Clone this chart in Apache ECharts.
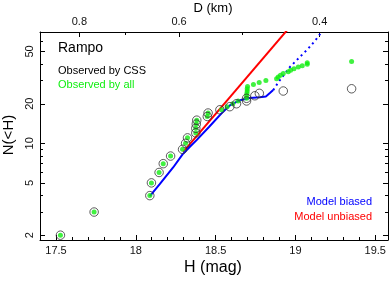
<!DOCTYPE html>
<html><head><meta charset="utf-8">
<script src="https://cdn.jsdelivr.net/npm/echarts@6/dist/echarts.min.js"></script>
<style>html,body{margin:0;padding:0;background:#fff}#c{width:390px;height:281px}</style>
</head><body><div id="c"></div>
<script>
// Observed by CSS (cumulative counts)
const cssH = [17.528,17.739,18.088,18.098,18.146,18.172,18.218,18.293,18.312,18.324,18.376,18.376,18.379,18.382,18.448,18.453,18.527,18.589,18.631,18.694,18.694,18.746,18.774,18.924,19.352];
const cssN = [2,3,4,5,6,7,8,9,10,11,12,13,14,15,16,17,18,19,20,21,22,23,24,25,26];
// Observed by all
const allH = [17.528,17.739,18.088,18.098,18.146,18.172,18.218,18.293,18.312,18.324,18.376,18.376,18.379,18.382,18.448,18.453,18.537,18.572,18.608,18.641,18.694,18.694,18.696,18.698,18.698,18.700,18.737,18.773,18.815,18.882,18.892,18.906,18.924,18.955,18.970,18.991,19.018,19.043,19.074,19.074,19.352];
const allN = [2,3,4,5,6,7,8,9,10,11,12,13,14,15,16,17,18,19,20,21,22,23,24,25,26,27,28,29,30,31,32,33,34,35,36,37,38,39,40,41,42];
// Model biased (solid part, then dotted extension)
const biasH = [18.088,18.150,18.234,18.293,18.339,18.381,18.460,18.537,18.589,18.652,18.715,18.777,18.815,18.840,18.861];
const biasN = [3.96,4.90,6.55,8.24,9.41,10.58,13.36,16.9,19.4,21.3,22.1,22.4,22.7,24.1,25.4];
const biasDotH = [18.861,18.871,18.903,18.966,19.028,19.078,19.122,19.160];
const biasDotN = [25.4,26.57,30.3,38.1,45.4,52.2,60.1,69.1];
// Model unbiased
const unbH = [18.297,18.97];
const unbN = [8.6,78];
// Tick labels
const hMajor = [17.5,18,18.5,19,19.5];
const hMinor = [17.4,17.6,17.7,17.8,17.9,18.1,18.2,18.3,18.4,18.6,18.7,18.8,18.9,19.1,19.2,19.3,19.4,19.6];
const nMajor = [2,5,10,20,50];
const nMinor = [3,4,6,7,8,9,30,40,60];
const dMajor = [0.8,0.6,0.4];
const dMinor = [0.7,0.5];
const HK = 17.162; // H = HK - 5 log10(D)
const hOfD = d => HK - 5*Math.log10(d);
const dOfH = h => Math.pow(10,(HK-h)/5);

const XMIN = 17.4, XMAX = 19.58, YMIN = 1.838, YMAX = 70.3;
const FONT = 'Liberation Sans';
const lineBlack = {show:true, lineStyle:{color:'#000', width:1}};
const noLine = {show:false};

function xAx(pos, major, opts){
  return Object.assign({type:'value', position:pos, min:XMIN, max:XMAX,
    splitLine:{show:false}, axisLine: major?lineBlack:noLine}, opts);
}
function yAx(pos, major, opts){
  return Object.assign({type:'log', position:pos, min:YMIN, max:YMAX,
    splitLine:{show:false}, axisLine: major?lineBlack:noLine}, opts);
}
const chart = echarts.init(document.getElementById('c'), null, {renderer:'canvas'});
chart.setOption({
  animation:false,
  grid:{left:40, top:32, right:2, bottom:41, containLabel:false},
  xAxis:[
    xAx('bottom', true, {axisTick:{inside:true, length:5, customValues:hMajor, lineStyle:{color:'#000'}},
      axisLabel:{customValues:hMajor, color:'#111', fontFamily:FONT, fontSize:11, margin:5,
        formatter: v => String(v)}}),
    xAx('bottom', false, {axisTick:{inside:true, length:3, customValues:hMinor, lineStyle:{color:'#000'}},
      axisLabel:{show:false}}),
    xAx('top', true, {axisTick:{inside:true, length:5, customValues:dMajor.map(hOfD), lineStyle:{color:'#000'}},
      axisLabel:{customValues:dMajor.map(hOfD), color:'#111', fontFamily:FONT, fontSize:11, margin:5,
        formatter: v => dOfH(v).toFixed(1)}}),
    xAx('top', false, {axisTick:{inside:true, length:3, customValues:dMinor.map(hOfD), lineStyle:{color:'#000'}},
      axisLabel:{show:false}})
  ],
  yAxis:[
    yAx('left', true, {axisTick:{inside:true, length:5, customValues:nMajor, lineStyle:{color:'#000'}},
      axisLabel:{customValues:nMajor, rotate:90, color:'#111', fontFamily:FONT, fontSize:11, margin:5,
        formatter: v => String(Math.round(v))}}),
    yAx('left', false, {axisTick:{inside:true, length:3, customValues:nMinor, lineStyle:{color:'#000'}},
      axisLabel:{show:false}}),
    yAx('right', true, {axisTick:{inside:true, length:5, customValues:nMajor, lineStyle:{color:'#000'}},
      axisLabel:{show:false}}),
    yAx('right', false, {axisTick:{inside:true, length:3, customValues:nMinor, lineStyle:{color:'#000'}},
      axisLabel:{show:false}})
  ],
  series:[
    {type:'line', name:'Model unbiased', data:unbH.map((h,i)=>[h,unbN[i]]), showSymbol:false, symbol:'none',
      lineStyle:{color:'#ff0000', width:2}, clip:true, z:2},
    {type:'line', name:'Model biased', data:biasH.map((h,i)=>[h,biasN[i]]), showSymbol:false, symbol:'none',
      lineStyle:{color:'#0000ff', width:2}, clip:true, z:3},
    {type:'line', name:'Model biased ext', data:biasDotH.map((h,i)=>[h,biasDotN[i]]), showSymbol:false, symbol:'none',
      lineStyle:{color:'#0000ff', width:2, type:[2,3.5]}, clip:true, z:3},
    {type:'scatter', name:'Observed by all', data:allH.map((h,i)=>[h,allN[i]]), symbol:'circle', symbolSize:5,
      itemStyle:{color:'#11ee11'}, z:4},
    {type:'scatter', name:'Observed by CSS', data:cssH.map((h,i)=>[h,cssN[i]]), symbol:'circle', symbolSize:8.5,
      itemStyle:{color:'rgba(0,0,0,0)', borderColor:'#333', borderWidth:1}, z:5}
  ],
  graphic:[
    {type:'text', left:58, top:41, style:{text:'Rampo', fill:'#000', font:'14px "Liberation Sans"'}},
    {type:'text', left:58, top:65, style:{text:'Observed by CSS', fill:'#000', font:'11px "Liberation Sans"'}},
    {type:'text', left:58, top:79, style:{text:'Observed by all', fill:'#11ee11', font:'11px "Liberation Sans"'}},
    {type:'text', right:18, top:196, style:{text:'Model biased', fill:'#0000ff', font:'11px "Liberation Sans"'}},
    {type:'text', right:18, top:211, style:{text:'Model unbiased', fill:'#ff0000', font:'11px "Liberation Sans"'}},
    {type:'text', x:213, y:268, style:{text:'H (mag)', fill:'#000', font:'16px "Liberation Sans"', align:'center', verticalAlign:'middle'}},
    {type:'text', x:213, y:8, style:{text:'D (km)', fill:'#000', font:'13px "Liberation Sans"', align:'center', verticalAlign:'middle'}},
    {type:'text', x:9, y:135, rotation:Math.PI/2, style:{text:'N(<H)', fill:'#000', font:'15px "Liberation Sans"', align:'center', verticalAlign:'middle'}}
  ]
});
</script></body></html>
